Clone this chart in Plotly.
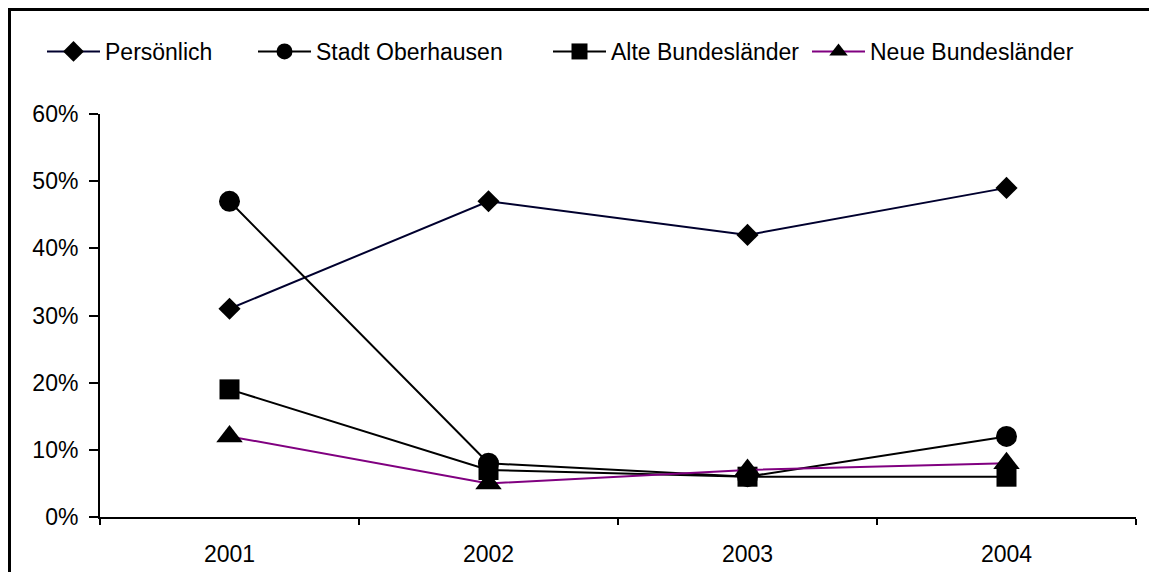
import plotly.graph_objects as go

years = ["2001", "2002", "2003", "2004"]
persoenlich = [0.31, 0.47, 0.42, 0.49]
stadt_oberhausen = [0.47, 0.08, 0.06, 0.12]
alte_bl = [0.19, 0.07, 0.06, 0.06]
neue_bl = [0.12, 0.05, 0.07, 0.08]

names = ["Persönlich", "Stadt Oberhausen", "Alte Bundesländer", "Neue Bundesländer"]
FONT = "Liberation Sans, Arial, sans-serif"
W, H = 1149, 572
ML, MR, MT, MB = 100, 13, 114, 55
PW = W - ML - MR
PH = H - MT - MB


def px_x(p):
    return (p - ML) / PW


def px_y(p):
    return (H - MB - p) / PH


fig = go.Figure()
series = [
    (persoenlich, names[0], "#00002e", "diamond", 17, "legend"),
    (stadt_oberhausen, names[1], "#000000", "circle", 21, "legend2"),
    (alte_bl, names[2], "#000000", "square", 20, "legend3"),
    (neue_bl, names[3], "#800080", "triangle-up", 23, "legend4"),
]
for vals, name, col, sym, size, lg in series:
    fig.add_trace(go.Scatter(
        x=years, y=vals, name=name, mode="lines+markers",
        line=dict(color=col, width=2),
        marker=dict(symbol=sym, size=size, color="#000000", line=dict(width=0)),
        legend=lg,
    ))

legend_starts = [47, 258, 553, 812]
common_leg = dict(orientation="h", xanchor="left", yanchor="middle", y=px_y(51.5),
                  font=dict(family=FONT, size=23, color="#000000"),
                  bgcolor="rgba(0,0,0,0)", borderwidth=0, itemwidth=53)
legends = {}
for i, key in enumerate(["legend", "legend2", "legend3", "legend4"]):
    legends[key] = dict(common_leg, x=px_x(legend_starts[i] - 5))

border = dict(color="#000000", width=3)
fig.update_layout(
    width=W, height=H,
    margin=dict(l=ML, r=MR, t=MT, b=MB, autoexpand=False),
    paper_bgcolor="white", plot_bgcolor="white",
    font=dict(family=FONT, size=23, color="#000000"),
    showlegend=True,
    **legends,
    xaxis=dict(type="category", range=[-0.5, 3.5], showgrid=False, zeroline=False,
               showline=True, linecolor="#000000", linewidth=2, automargin=False,
               ticks="outside", tickson="boundaries", ticklen=6, tickwidth=2,
               tickcolor="#000000", ticklabelstandoff=15,
               tickfont=dict(family=FONT, size=23)),
    yaxis=dict(range=[0, 0.6], dtick=0.1, tickformat=".0%", showgrid=False,
               zeroline=False, showline=True, linecolor="#000000", linewidth=2,
               automargin=False,
               ticks="outside", ticklen=9, tickwidth=2, tickcolor="#000000",
               ticklabelstandoff=6, tickfont=dict(family=FONT, size=23)),
    shapes=[
        dict(type="line", xref="paper", yref="paper",
             x0=px_x(9.5), x1=px_x(9.5), y0=px_y(572), y1=px_y(8),
             line=border, layer="above"),
        dict(type="line", xref="paper", yref="paper",
             x0=px_x(8), x1=px_x(1149), y0=px_y(9.5), y1=px_y(9.5),
             line=border, layer="above"),
    ],
)

fig.write_html("out.html", config={"displayModeBar": False},
               post_script="document.body.style.margin='0';document.body.style.overflow='hidden';")
